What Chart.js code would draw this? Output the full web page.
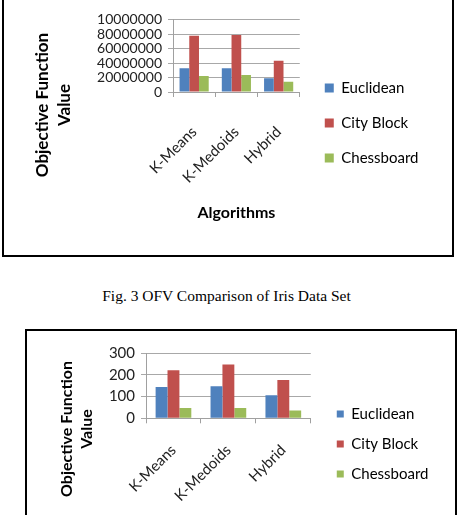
<!DOCTYPE html>
<html>
<head>
<meta charset="utf-8">
<script src="https://cdn.jsdelivr.net/npm/chart.js@4"></script>
<style>
  body { margin: 0; background: #fff; overflow: hidden; }
  .box { position: absolute; border: 2px solid #000; box-sizing: border-box; pointer-events: none; }
  canvas { position: absolute; left: 0; }
  #caption { position: absolute; left: 0; width: 453px; top: 287px; text-align: center;
             font: 15.5px "Liberation Serif", "Times New Roman", serif; color: #000; }
</style>
</head>
<body>
<canvas id="graph1" width="455" height="250" style="top:0px"></canvas>
<canvas id="graph2" width="455" height="250" style="top:330px"></canvas>
<div class="box" style="left:2px; top:-10px; width:452px; height:267px;"></div>
<div id="caption">Fig. 3 OFV Comparison of Iris Data Set</div>
<div class="box" style="left:25px; top:329px; width:432px; height:300px;"></div>
<script>
const categories = ['K-Means', 'K-Medoids', 'Hybrid'];
const seriesNames = ['Euclidean', 'City Block', 'Chessboard'];

// Fig. 3 (iris)
const euclidean1 = [32700000, 32700000, 18900000];
const cityBlock1 = [77700000, 78600000, 43000000];
const chessboard1 = [22000000, 23400000, 14200000];
const yTicks1 = ['0', '20000000', '40000000', '60000000', '80000000', '10000000'];

// second figure
const euclidean2 = [144, 148, 106];
const cityBlock2 = [222, 248, 177];
const chessboard2 = [48, 48, 36];
const yTicks2 = ['0', '100', '200', '300'];

const colors = ['#4F81BD', '#C0504D', '#9BBB59'];
const FONT = 'Lato, "Open Sans", sans-serif';

function makeConfig(values, yMax, yStep, yTicks, o) {
    return {
        type: 'bar',
        data: {
            labels: categories,
            datasets: values.map((vals, i) => ({
                label: seriesNames[i],
                data: vals,
                backgroundColor: colors[i],
                borderWidth: 0,
                categoryPercentage: o.catPct,
                barPercentage: 1.0
            }))
        },
        options: {
            responsive: false,
            animation: false,
            layout: { padding: o.padding },
            scales: {
                x: {
                    grid: { drawOnChartArea: false, tickLength: 5, color: '#a0a0a0' },
                    border: { color: '#a0a0a0' },
                    ticks: { minRotation: 45, maxRotation: 45, padding: o.xTickPad, color: '#222',
                             font: { family: FONT, size: o.xTickSize } },
                    title: { display: true, text: 'Algorithms', color: '#000',
                             font: { family: FONT, size: 16, weight: 'bold' },
                             padding: { top: 0, bottom: o.xTitlePad } },
                    afterFit: s => { s.height = o.xHeight; }
                },
                y: {
                    min: 0, max: yMax,
                    grid: { color: '#a8a8a8', tickLength: 5 },
                    border: { color: '#a0a0a0' },
                    ticks: { stepSize: yStep, autoSkip: false, padding: 6, color: '#222',
                             font: { family: FONT, size: o.yTickSize },
                             callback: (v, i) => yTicks[i] },
                    afterFit: s => { s.width = o.yWidth; }
                },
                gap: {
                    type: 'linear', position: 'right', display: true,
                    grid: { display: false }, border: { display: false },
                    ticks: { display: false },
                    afterFit: s => { s.width = o.gap; }
                }
            },
            plugins: {
                tooltip: { enabled: false },
                title: {
                    display: true, position: 'left', color: '#000',
                    text: ['Objective Function', 'Value'],
                    font: { family: FONT, size: o.yTitleSize, weight: 'bold', lineHeight: o.yTitleLH },
                    padding: { top: o.yTitlePad, bottom: 0 }
                },
                legend: {
                    position: 'right', align: 'center', maxWidth: 200,
                    title: { display: true, text: '', font: { size: 12, lineHeight: 1 },
                             padding: { top: 0, bottom: o.legendShift } },
                    labels: { boxWidth: o.box, boxHeight: o.box, padding: o.legendPad, color: '#000',
                              font: { family: FONT, size: 15 } }
                }
            }
        }
    };
}

new Chart(document.getElementById('graph1'), makeConfig(
    [euclidean1, cityBlock1, chessboard1], 100000000, 20000000, yTicks1, {
        padding: { top: 19.5, left: 0, right: 26.5, bottom: 59.5 },
        catPct: 0.69, xTickPad: 26, xTickSize: 15, yTickSize: 14,
        xTitlePad: -32, xHeight: 98.5, yWidth: 97, gap: 5,
        yTitleSize: 17, yTitleLH: 22 / 17, yTitlePad: 32,
        legendShift: 24, box: 9, legendPad: 20
    }));

new Chart(document.getElementById('graph2'), makeConfig(
    [euclidean2, cityBlock2, chessboard2], 300, 100, yTicks2, {
        padding: { top: 23.3, left: 0, right: 16.5, bottom: 75.3 },
        catPct: 0.65, xTickPad: 18, xTickSize: 15, yTickSize: 15,
        xTitlePad: -40, xHeight: 86.4, yWidth: 49, gap: 11,
        yTitleSize: 16, yTitleLH: 20 / 16, yTitlePad: 57,
        legendShift: 18, box: 7, legendPad: 15
    }));
</script>
</body>
</html>
